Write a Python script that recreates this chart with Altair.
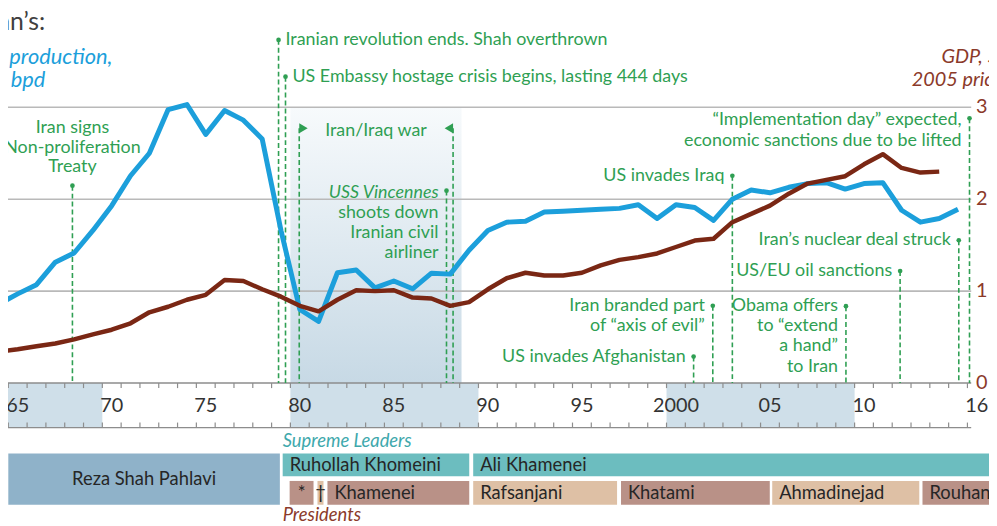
import altair as alt
import pandas as pd

# ---------------- data ----------------
oil_years = list(range(1964, 2016))
oil_mbpd = [1.72, 1.94, 2.14, 2.63, 2.83, 3.32, 3.86, 4.51, 5.00, 5.95,
            6.06, 5.41, 5.93, 5.72, 5.31, 3.32, 1.60, 1.34, 2.40, 2.46,
            2.07, 2.22, 2.05, 2.39, 2.37, 2.89, 3.32, 3.50, 3.52, 3.72,
            3.74, 3.76, 3.78, 3.80, 3.88, 3.58, 3.88, 3.82, 3.54, 4.00,
            4.20, 4.14, 4.26, 4.34, 4.36, 4.22, 4.34, 4.36, 3.76, 3.50,
            3.58, 3.78]
gdp_years = list(range(1964, 2015))
gdp_values = [0.34, 0.367, 0.40, 0.43, 0.475, 0.53, 0.58, 0.65, 0.77, 0.83,
              0.906, 0.96, 1.12, 1.11, 1.02, 0.94, 0.84, 0.78, 0.906, 1.01,
              1.00, 1.01, 0.93, 0.92, 0.84, 0.88, 1.02, 1.14, 1.20, 1.17,
              1.17, 1.20, 1.28, 1.34, 1.37, 1.41, 1.48, 1.55, 1.57, 1.75,
              1.84, 1.93, 2.06, 2.17, 2.21, 2.25, 2.38, 2.49, 2.34, 2.29,
              2.30]

# events marked with a dot and a dashed line
event_names = ["NPT", "Revolution", "Hostage", "Vincennes", "Afghanistan",
               "Axis of evil", "Iraq", "Obama", "Sanctions", "Nuclear deal",
               "Implementation"]
event_years = [1968.41, 1979.37, 1979.74, 1988.30, 2001.44, 2002.46, 2003.50,
               2009.54, 2012.42, 2015.54, 2016.11]
event_tops = [2.147, 3.733, 3.333, 2.093, 0.288, 0.841, 2.255, 0.836, 1.219,
              1.553, 2.880]

war_years = [1980.47, 1988.65]
war_top = 2.772
war_shade = [1980.0, 1989.1]

# annotation text lines: (text, year, value)
center_labels = [("Iran signs", 1968.41, 2.772),
                 ("Non-proliferation", 1968.41, 2.557),
                 ("Treaty", 1968.41, 2.352),
                 ("Iran/Iraq war", 1984.55, 2.74)]
left_labels = [("Iranian revolution ends. Shah overthrown", 1979.37, 3.733),
               ("US Embassy hostage crisis begins, lasting 444 days", 1979.74, 3.333)]
right_italic_labels = [("USS Vincennes", 1988.30, 2.064)]
right_labels = [("shoots down", 1988.30, 1.848),
                ("Iranian civil", 1988.30, 1.629),
                ("airliner", 1988.30, 1.413),
                ("US invades Afghanistan", 2001.44, 0.288),
                ("Iran branded part", 2002.46, 0.841),
                ("of \u201caxis of evil\u201d", 2002.46, 0.615),
                ("US invades Iraq", 2003.50, 2.255),
                ("Obama offers", 2009.54, 0.841),
                ("to \u201cextend", 2009.54, 0.615),
                ("a hand\u201d", 2009.54, 0.399),
                ("to Iran", 2009.54, 0.173),
                ("US/EU oil sanctions", 2012.42, 1.219),
                ("Iran\u2019s nuclear deal struck", 2015.54, 1.553),
                ("\u201cImplementation day\u201d expected,", 2016.11, 2.859),
                ("economic sanctions due to be lifted", 2016.11, 2.632)]

tick_label_text = ["65", "70", "75", "80", "85", "90", "95", "2000", "05", "10", "16"]
tick_label_years = [1965, 1970, 1975, 1980, 1985, 1990, 1995, 2000, 2005, 2010, 2016]
band_starts = [1964.9, 1980, 2000]
band_ends = [1970, 1990, 2010]
right_axis_values = [0, 1, 2, 3]

bar_names = ["Reza Shah Pahlavi", "Ruhollah Khomeini", "Ali Khamenei", "*", "\u2020",
             "Khamenei", "Rafsanjani", "Khatami", "Ahmadinejad", "Rouhani"]
bar_start = [1965.0, 1979.59, 1989.72, 1979.96, 1981.44, 1981.97, 1989.72, 1997.58,
             2005.62, 2013.61]
bar_end = [1979.44, 1989.51, 2018.5, 1981.23, 1981.76, 1989.51, 1997.37, 2005.49,
           2013.44, 2018.5]
bar_row = ["shah", "leader", "leader", "pres", "pres", "pres", "pres", "pres", "pres", "pres"]
bar_tone = ["shah", "leader", "leader", "rose", "tan", "rose", "tan", "rose", "tan", "rose"]

# ---------------- layout / style ----------------
PXY = 18.96      # px per year
PXV = 92.67      # px per unit
W, H = 989, 516
X0 = 1980 - (292.7 - 8) / PXY
X1 = X0 + W / PXY
Y1 = (384 - 8) / PXV
Y0 = Y1 - H / PXV
PLOT_END = 2016.2
BAND_BOTTOM = -0.485

BLUE = "#1c9fdb"
RED = "#7a2714"
BROWN = "#8b3a2a"
GREEN = "#2f9f53"
GRID = "#b9b9b9"
AXIS = "#8d8d8d"
FONT = "Lato"
ANN = 18

ROW_SPAN = {"shah": (-0.766, -1.324), "leader": (-0.766, -1.014), "pres": (-1.065, -1.324)}
TONES = {"shah": "#8fb2c9", "leader": "#6cbdbf", "rose": "#b99187", "tan": "#dec0a5"}

XS = alt.Scale(domain=[X0, X1], nice=False, zero=False)
YS = alt.Scale(domain=[Y0, Y1], nice=False, zero=False)


def ex(f):
    return alt.X(f, type="quantitative", scale=XS, axis=None)


def ey(f):
    return alt.Y(f, type="quantitative", scale=YS, axis=None)


# ---------------- tables ----------------
oil_df = pd.DataFrame({"year": oil_years, "oil": oil_mbpd})
gdp_df = pd.DataFrame({"year": gdp_years, "gdp": gdp_values})
ev_df = pd.DataFrame({"name": event_names, "year": event_years, "top": event_tops})
ev_df["bottom"] = 0.0
war_df = pd.DataFrame({"year": war_years, "top": war_top, "bottom": 0.0,
                       "side": ["start", "end"]})
shade_df = pd.DataFrame({"x0": [war_shade[0]], "x1": [war_shade[1]], "y0": [3.0], "y1": [0.0]})
grid_df = pd.DataFrame({"v": [1, 2, 3], "x0": X0, "x1": PLOT_END})
axis_df = pd.DataFrame({"v": [0.0, BAND_BOTTOM], "x0": X0, "x1": PLOT_END})
band_df = pd.DataFrame({"x0": band_starts, "x1": band_ends, "y0": 0.0, "y1": BAND_BOTTOM})
tick_years = list(range(1965, 2017))
ticks_top = pd.DataFrame({"year": tick_years, "a": 0.0, "b": -0.055})
ticks_bot = pd.DataFrame({"year": tick_years, "a": BAND_BOTTOM, "b": BAND_BOTTOM + 0.055})
tl_df = pd.DataFrame({"text": tick_label_text, "year": [y + 0.5 for y in tick_label_years],
                      "v": -0.248})
ra_df = pd.DataFrame({"text": [str(v) for v in right_axis_values], "v": right_axis_values,
                      "year": 2016.46})


def lab_df(rows):
    return pd.DataFrame(rows, columns=["text", "year", "v"])


bars_df = pd.DataFrame({"name": bar_names, "start": bar_start, "end": bar_end,
                        "row": bar_row, "tone": bar_tone})
bars_df["y0"] = [ROW_SPAN[r][0] for r in bar_row]
bars_df["y1"] = [ROW_SPAN[r][1] for r in bar_row]
bars_df["ymid"] = (bars_df["y0"] + bars_df["y1"]) / 2
bars_df["mid"] = (bars_df["start"] + bars_df["end"]) / 2

# ---------------- layers ----------------
shade = alt.Chart(shade_df).mark_rect(
    color=alt.Gradient(gradient="linear",
                       stops=[alt.GradientStop(color="#f7fafc", offset=0),
                              alt.GradientStop(color="#c7d9e5", offset=1)],
                       x1=0, x2=0, y1=0, y2=1)
).encode(x=ex("x0"), x2="x1", y=ey("y0"), y2="y1")

bands = alt.Chart(band_df).mark_rect(color="#cfdfe9", clip=True).encode(
    x=ex("x0"), x2="x1", y=ey("y0"), y2="y1")

grid = alt.Chart(grid_df).mark_rule(color=GRID, strokeWidth=1.6).encode(
    x=ex("x0"), x2="x1", y=ey("v"))

axis_lines = alt.Chart(axis_df).mark_rule(color=AXIS, strokeWidth=1.5).encode(
    x=ex("x0"), x2="x1", y=ey("v"))

tick_t = alt.Chart(ticks_top).mark_rule(color=AXIS, strokeWidth=1.2).encode(
    x=ex("year"), y=ey("a"), y2="b")
tick_b = alt.Chart(ticks_bot).mark_rule(color=AXIS, strokeWidth=1.2).encode(
    x=ex("year"), y=ey("a"), y2="b")

tick_labels = alt.Chart(tl_df).mark_text(font=FONT, fontSize=20, color="#333333",
                                         baseline="middle", align="center", clip=True).encode(
    x=ex("year"), y=ey("v"), text="text")

right_axis = alt.Chart(ra_df).mark_text(font=FONT, fontSize=20, color=BROWN,
                                        baseline="middle", align="left").encode(
    x=ex("year"), y=ey("v"), text="text")

ev_lines = alt.Chart(ev_df).mark_rule(color=GREEN, strokeWidth=1.6, strokeDash=[5, 3]).encode(
    x=ex("year"), y=ey("top"), y2="bottom")
war_lines = alt.Chart(war_df).mark_rule(color=GREEN, strokeWidth=1.6, strokeDash=[5, 3]).encode(
    x=ex("year"), y=ey("top"), y2="bottom")

oil_line = alt.Chart(oil_df).transform_calculate(
    x="datum.year + 0.5", v="datum.oil / 2"
).mark_line(color=BLUE, strokeWidth=5, clip=True, strokeJoin="round").encode(
    x=ex("x"), y=ey("v"))

gdp_line = alt.Chart(gdp_df).transform_calculate(
    x="datum.year + 0.5"
).mark_line(color=RED, strokeWidth=4.5, clip=True, strokeJoin="round").encode(
    x=ex("x"), y=ey("gdp"))

dots = alt.Chart(ev_df).mark_point(filled=True, color=GREEN, size=22, opacity=1).encode(
    x=ex("year"), y=ey("top"))

flag_start = alt.Chart(war_df[war_df.side == "start"]).mark_point(
    shape="M0,-1L1.7,0L0,1Z", filled=True, color=GREEN, size=100, opacity=1).encode(
    x=ex("year"), y=ey("top"))
flag_end = alt.Chart(war_df[war_df.side == "end"]).mark_point(
    shape="M0,-1L-1.7,0L0,1Z", filled=True, color=GREEN, size=100, opacity=1).encode(
    x=ex("year"), y=ey("top"))

ann_c = alt.Chart(lab_df(center_labels)).mark_text(
    font=FONT, fontSize=ANN, color=GREEN, align="center", baseline="middle", clip=True).encode(
    x=ex("year"), y=ey("v"), text="text")
ann_l = alt.Chart(lab_df(left_labels)).mark_text(
    font=FONT, fontSize=ANN, color=GREEN, align="left", baseline="middle", dx=7).encode(
    x=ex("year"), y=ey("v"), text="text")
ann_r = alt.Chart(lab_df(right_labels)).mark_text(
    font=FONT, fontSize=ANN, color=GREEN, align="right", baseline="middle", dx=-8).encode(
    x=ex("year"), y=ey("v"), text="text")
ann_ri = alt.Chart(lab_df(right_italic_labels)).mark_text(
    font=FONT, fontSize=ANN, color=GREEN, align="right", baseline="middle", dx=-8,
    fontStyle="italic").encode(x=ex("year"), y=ey("v"), text="text")

bars = alt.Chart(bars_df).mark_rect(clip=True).encode(
    x=ex("start"), x2="end", y=ey("y0"), y2="y1",
    color=alt.Color("tone:N", scale=alt.Scale(domain=list(TONES.keys()),
                                              range=list(TONES.values())), legend=None))

bar_text_left = alt.Chart(bars_df[~bars_df.name.isin(["Reza Shah Pahlavi", "*", "\u2020"])]).mark_text(
    font=FONT, fontSize=18.5, color="#262626", align="left", baseline="middle", dx=7).encode(
    x=ex("start"), y=ey("ymid"), text="name")
bar_text_mid = alt.Chart(bars_df[bars_df.name.isin(["Reza Shah Pahlavi", "*", "\u2020"])]).mark_text(
    font=FONT, fontSize=18.5, color="#262626", align="center", baseline="middle").encode(
    x=ex("mid"), y=ey("ymid"), text="name")

hdr_leaders = alt.Chart(pd.DataFrame({"text": ["Supreme Leaders"], "year": [1979.59], "v": [-0.636]})).mark_text(
    font=FONT, fontSize=18.5, fontStyle="italic", align="left", baseline="middle", color="#3ea8ac").encode(
    x=ex("year"), y=ey("v"), text="text")
hdr_pres = alt.Chart(pd.DataFrame({"text": ["Presidents"], "year": [1979.59], "v": [-1.435]})).mark_text(
    font=FONT, fontSize=18.5, fontStyle="italic", align="left", baseline="middle", color=BROWN).encode(
    x=ex("year"), y=ey("v"), text="text")

title_df = pd.DataFrame({"text": ["Iran\u2019s:"], "year": [1966.96], "v": [3.927]})
title = alt.Chart(title_df).mark_text(
    font=FONT, fontSize=25, color="#404040", align="right", baseline="middle", clip=True).encode(
    x=ex("year"), y=ey("v"), text="text")

left_title_df = pd.DataFrame({"text": ["Oil production,", "m bpd"], "year": [1970.54, 1966.97],
                              "v": [3.549, 3.30]})
left_title = alt.Chart(left_title_df).mark_text(
    font=FONT, fontSize=22, fontStyle="italic", color=BLUE, align="right", baseline="middle",
    clip=True).encode(x=ex("year"), y=ey("v"), text="text")

right_title_df = pd.DataFrame({"text": ["GDP, $trn", "2005 prices"], "year": [2014.62, 2013.04],
                               "v": [3.549, 3.30]})
right_title = alt.Chart(right_title_df).mark_text(
    font=FONT, fontSize=20, fontStyle="italic", color=BROWN, align="left", baseline="middle").encode(
    x=ex("year"), y=ey("v"), text="text")

chart = alt.layer(
    shade, bands, grid, axis_lines, tick_t, tick_b, tick_labels, right_axis,
    ev_lines, war_lines, oil_line, gdp_line, dots, flag_start, flag_end,
    ann_c, ann_l, ann_r, ann_ri, bars, bar_text_left, bar_text_mid, hdr_leaders, hdr_pres,
    title, left_title, right_title
).properties(width=W, height=H, padding=0, autosize="none").configure_view(stroke=None)

chart.save("out.html", embed_options={"renderer": "svg", "actions": False})
